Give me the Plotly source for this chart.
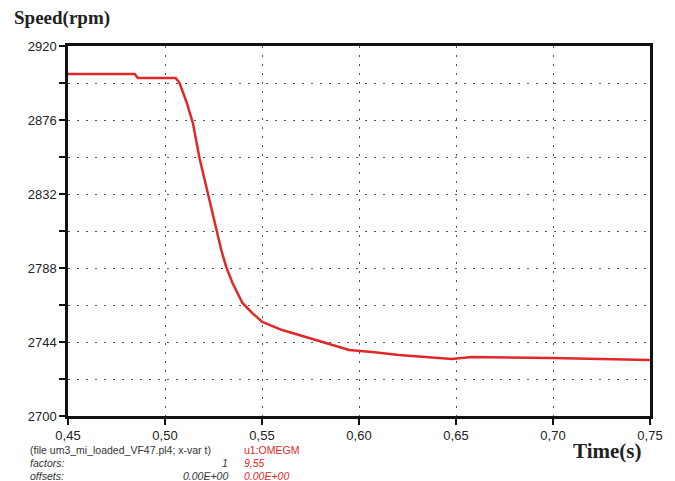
import plotly.graph_objects as go

# data
time_s = [0.45, 0.4844, 0.486, 0.5055, 0.5075, 0.511, 0.5144, 0.5178, 0.5229,
          0.529, 0.5315, 0.5348, 0.5399, 0.545, 0.5502, 0.5604, 0.5743, 0.5949,
          0.6067, 0.6205, 0.6478, 0.658, 0.6991, 0.75]
speed_rpm = [2903.4, 2903.4, 2901.0, 2901.0, 2898.0, 2887.0, 2874.0, 2853.2, 2828.4,
             2798.7, 2788.8, 2779.1, 2767.2, 2761.2, 2755.9, 2751.1, 2746.4, 2739.2,
             2738.0, 2736.3, 2733.9, 2735.1, 2734.5, 2733.3]

x_ticks = [0.45, 0.50, 0.55, 0.60, 0.65, 0.70, 0.75]
x_labels = ["0,45", "0,50", "0,55", "0,60", "0,65", "0,70", "0,75"]
y_ticks = [2700, 2722, 2744, 2766, 2788, 2810, 2832, 2854, 2876, 2898, 2920]
y_labels = ["2700", "", "2744", "", "2788", "", "2832", "", "2876", "", "2920"]

RED = "#e02828"

fig = go.Figure()
fig.add_trace(go.Scatter(x=time_s, y=speed_rpm, mode="lines",
                         line=dict(color=RED, width=2.5), hoverinfo="skip"))

axis_common = dict(showline=True, linecolor="#111111", linewidth=2.5, mirror=True,
                   ticks="outside", ticklen=6, tickwidth=2, tickcolor="#111111",
                   showgrid=True, gridcolor="#555555", gridwidth=1, griddash="2px,7px",
                   zeroline=False,
                   tickfont=dict(family="Liberation Sans, Arial, sans-serif", size=13, color="#222222"))

fig.update_xaxes(range=[0.45, 0.75], tickvals=x_ticks, ticktext=x_labels, **axis_common)
fig.update_yaxes(range=[2700, 2920], tickvals=y_ticks, ticktext=y_labels, **axis_common)

serif_bold = dict(family="Liberation Serif, Times New Roman, serif", size=19, color="#222222")
ann = [
    dict(text="<b>Speed(rpm)</b>", x=12, y=18, font=serif_bold, xanchor="left"),
    dict(text="<b>Time(s)</b>", x=573, y=451, font=dict(serif_bold, size=21), xanchor="left"),
    dict(text="(file um3_mi_loaded_VF47.pl4; x-var t)", x=28, y=450, xanchor="left"),
    dict(text="u1:OMEGM", x=243, y=450, xanchor="left", color=RED),
    dict(text="<i>factors:</i>", x=28, y=463, xanchor="left"),
    dict(text="<i>1</i>", x=231, y=463, xanchor="right"),
    dict(text="<i>9,55</i>", x=243, y=463, xanchor="left", color=RED),
    dict(text="<i>offsets:</i>", x=28, y=475.5, xanchor="left"),
    dict(text="<i>0.00E+00</i>", x=231, y=475.5, xanchor="right"),
    dict(text="<i>0.00E+00</i>", x=243, y=475.5, xanchor="left", color=RED),
]

L, R, T, B = 68, 23, 46, 65
W, H = 675, 481
pw, ph = W - L - R, H - T - B

annotations = []
for a in ann:
    font = a.get("font", dict(family="Liberation Sans, Arial, sans-serif", size=10.5,
                              color=a.get("color", "#333333")))
    annotations.append(dict(text=a["text"], x=(a["x"] - L) / pw, y=(H - B - a["y"]) / ph,
                            xref="paper", yref="paper", xanchor=a["xanchor"],
                            yanchor="middle", showarrow=False, font=font))

fig.update_layout(
    width=W, height=H,
    margin=dict(l=L, r=R, t=T, b=B),
    paper_bgcolor="white", plot_bgcolor="white",
    showlegend=False,
    annotations=annotations,
)

fig.write_html("out.html", config={"displayModeBar": False},
               post_script="document.body.style.margin='0';document.body.style.padding='0';")
